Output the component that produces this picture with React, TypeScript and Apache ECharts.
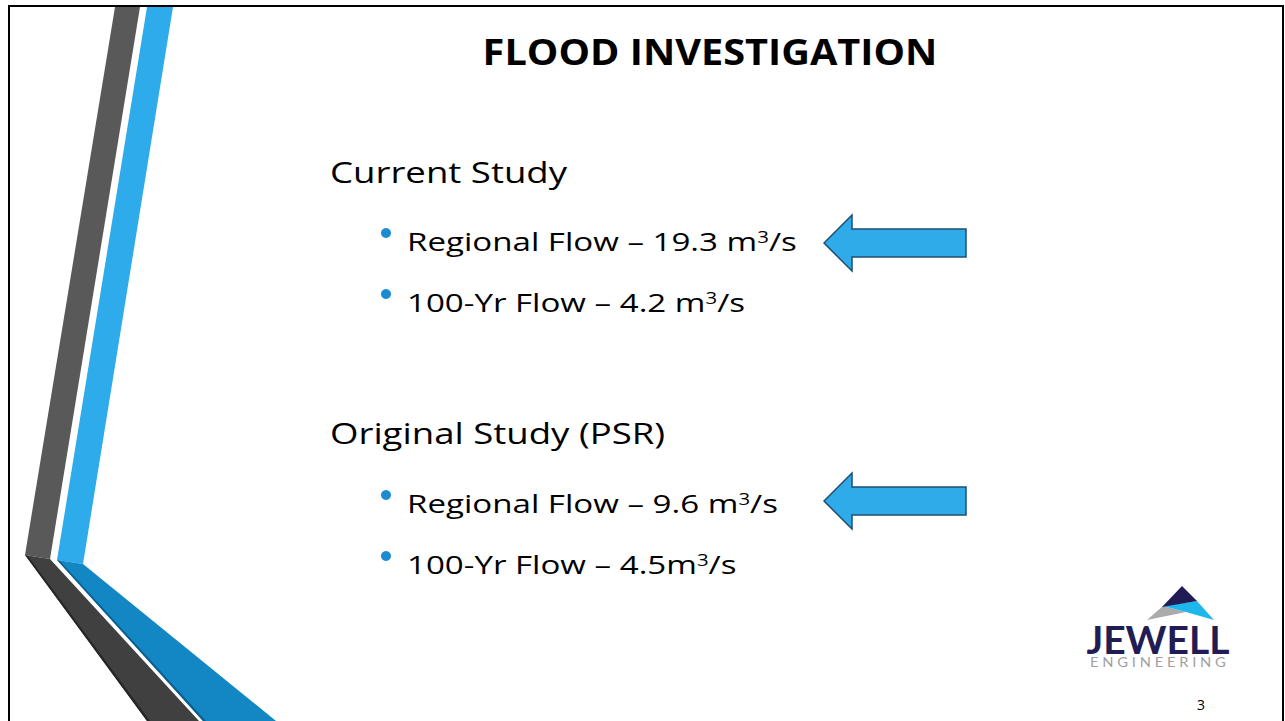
import React, { useEffect, useRef } from "react";
import * as echarts from "echarts";

// ---- slide content ----
const titleText = "FLOOD INVESTIGATION";
const sectionTitles = ["Current Study", "Original Study (PSR)"];
const bulletLabels = [
  ["Regional Flow – 19.3 m", "100-Yr Flow – 4.2 m"],
  ["Regional Flow – 9.6 m", "100-Yr Flow – 4.5m"],
];
const unitSuperscript = "3";
const unitTail = "/s";
const logoWord = "JEWELL";
const logoSub = "ENGINEERING";
const pageNumber = "3";

const FONT = "'Open Sans', sans-serif";
const LOGO_FONT = "Lato, sans-serif";

function measure(text: string, font: string): number {
  const c = document.createElement("canvas").getContext("2d");
  if (!c) return text.length * 8;
  c.font = font;
  return c.measureText(text).width;
}

export default function App() {
  const ref = useRef<HTMLDivElement>(null);
  useEffect(() => {
    if (!ref.current) return;
    const chart = echarts.init(ref.current, null, { renderer: "svg" });

    const elements: any[] = [];

    // decorative stripes
    elements.push(
      { type: "polygon", shape: { points: [[115, 7], [140, 7], [50, 559], [25, 555]] }, style: { fill: "#595959" } },
      { type: "polygon", shape: { points: [[147, 7], [173, 7], [83, 564], [57, 560]] }, style: { fill: "#2EABEA" } },
      { type: "polygon", shape: { points: [[25, 555], [50, 559], [199, 721], [147, 721]] }, style: { fill: "#404040" } },
      { type: "polygon", shape: { points: [[25, 555], [28, 556], [150, 721], [147, 721]] }, style: { fill: "#262626" } },
      { type: "polygon", shape: { points: [[57, 560], [83, 564], [276, 721], [203, 721]] }, style: { fill: "#1387C4" } },
      { type: "polygon", shape: { points: [[57, 560], [60, 561], [206, 721], [203, 721]] }, style: { fill: "#0D5E8C" } }
    );

    // frame
    elements.push({
      type: "rect",
      shape: { x: 9, y: 6, width: 1274, height: 740 },
      style: { fill: "none", stroke: "#000", lineWidth: 2 },
    });

    // title
    const titleSize = 35;
    const titleScale = 455 / measure(titleText, `bold ${titleSize}px 'Open Sans'`);
    elements.push({
      type: "text",
      x: 710,
      y: 51,
      scaleX: titleScale,
      style: { text: titleText, fontFamily: FONT, fontWeight: "bold", fontSize: titleSize, fill: "#000", align: "center", verticalAlign: "middle" },
    });

    const secSize = 29;
    const secScale = 237 / measure(sectionTitles[0], `${secSize}px 'Open Sans'`);
    const bulSize = 26;
    const supSize = 16;
    const bulScale =
      390 /
      (measure(bulletLabels[0][0], `${bulSize}px 'Open Sans'`) +
        measure(unitSuperscript, `${supSize}px 'Open Sans'`) +
        measure(unitTail, `${bulSize}px 'Open Sans'`));

    const sectionY = [172, 433];
    const bulletY = [[241, 302], [503, 564]];
    sectionTitles.forEach((s, i) => {
      elements.push({
        type: "text",
        x: 330,
        y: sectionY[i],
        scaleX: secScale,
        style: { text: s, fontFamily: FONT, fontSize: secSize, fill: "#000", align: "left", verticalAlign: "middle" },
      });
      bulletLabels[i].forEach((b, j) => {
        const y = bulletY[i][j];
        elements.push({
          type: "circle",
          shape: { cx: 386, cy: y - 8, r: 5 },
          style: { fill: "#1A8CCF" },
        });
        elements.push({
          type: "text",
          x: 407,
          y,
          scaleX: bulScale,
          style: {
            text: `{a|${b}}{s|${unitSuperscript}}{a|${unitTail}}`,
            align: "left",
            verticalAlign: "middle",
            rich: {
              a: { fontFamily: FONT, fontSize: bulSize, fill: "#000" },
              s: { fontFamily: FONT, fontSize: supSize, fill: "#000", verticalAlign: "top" },
            },
          },
        });
      });
      // arrow
      const tipY = [243, 501][i];
      elements.push({
        type: "polygon",
        shape: {
          points: [
            [824, tipY],
            [852, tipY - 28],
            [852, tipY - 14],
            [966, tipY - 14],
            [966, tipY + 14],
            [852, tipY + 14],
            [852, tipY + 28],
          ],
        },
        style: { fill: "#30ABEA", stroke: "#1E4F72", lineWidth: 1.5 },
      });
    });

    // logo
    elements.push(
      { type: "polygon", shape: { points: [[1147, 620], [1163, 606], [1186, 612]] }, style: { fill: "#ABABAB" } },
      { type: "polygon", shape: { points: [[1163, 606], [1197, 601], [1214, 620], [1186, 612]] }, style: { fill: "#1EB7EB" } },
      { type: "polygon", shape: { points: [[1182, 586], [1162, 607], [1197, 601]] }, style: { fill: "#221C55" } }
    );
    elements.push({
      type: "text",
      x: 1158,
      y: 639,
      style: { text: logoWord, fontFamily: LOGO_FONT, fontWeight: "bold", fontSize: 39, fill: "#221C55", align: "center", verticalAlign: "middle" },
    });
    const subFontSize = 14;
    const spaced = logoSub.split("").join(" ");
    const subScale = 136 / measure(spaced, `400 ${subFontSize}px Lato`);
    elements.push({
      type: "text",
      x: 1090,
      y: 662,
      scaleX: subScale,
      style: { text: spaced, fontFamily: LOGO_FONT, fontWeight: 400, fontSize: subFontSize, fill: "#A0A0A0", align: "left", verticalAlign: "middle" },
    });

    elements.push({
      type: "text",
      x: 1201,
      y: 704,
      style: { text: pageNumber, fontFamily: FONT, fontSize: 14, fill: "#000", align: "center", verticalAlign: "middle" },
    });

    chart.setOption({
      animation: false,
      backgroundColor: "#ffffff",
      graphic: { elements },
    });
    return () => chart.dispose();
  }, []);
  return <div ref={ref} style={{ position: "fixed", left: 0, top: 0, width: "100vw", height: "100vh" }} />;
}
